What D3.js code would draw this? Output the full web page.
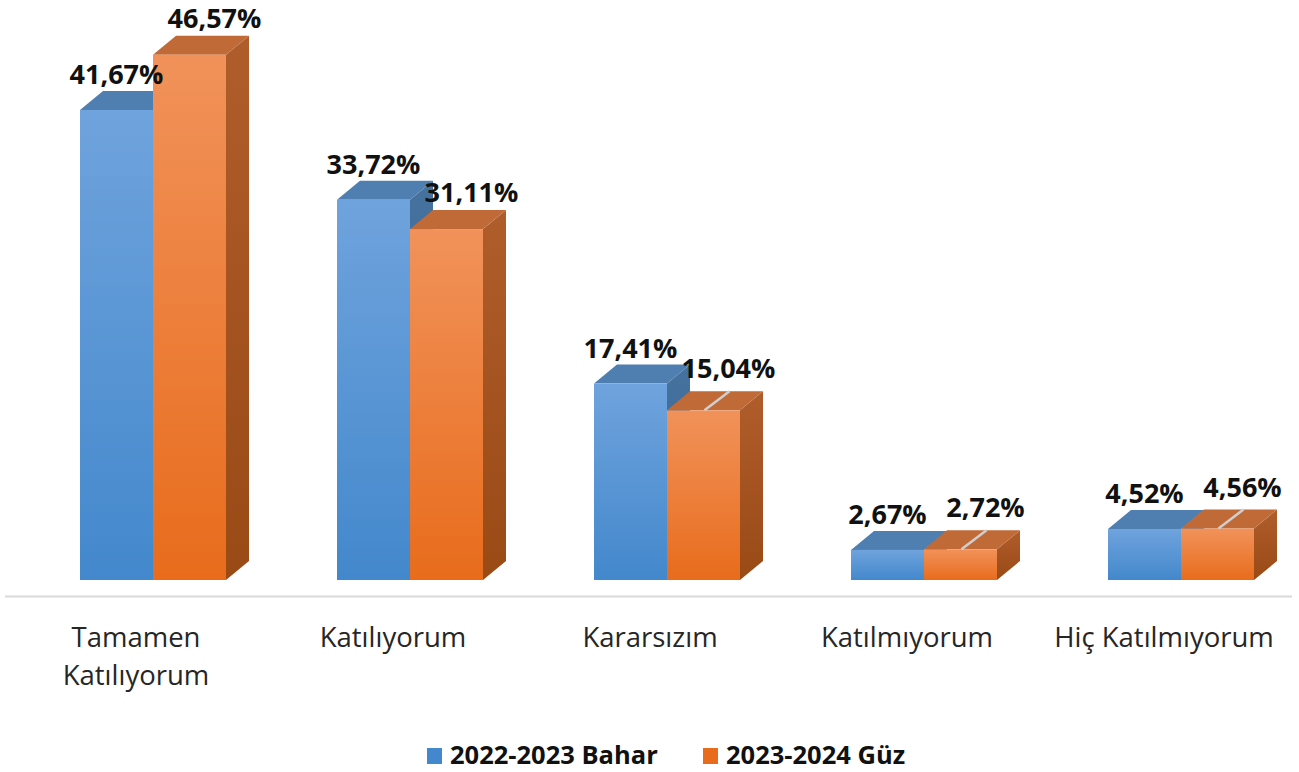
<!DOCTYPE html>
<html>
<head>
<meta charset="utf-8">
<script src="https://cdn.jsdelivr.net/npm/d3@7"></script>
<style>
  body { margin: 0; background: #fff; }
  svg { display: block; font-family: "Open Sans", "Noto Sans", sans-serif; }
  .value-label { font-weight: 700; font-size: 27px; fill: #111; }
  .cat-label { font-size: 27.5px; fill: #262626; }
  .legend-text { font-weight: 700; font-size: 25.5px; fill: #111; }
</style>
</head>
<body>
<svg id="chart"></svg>
<script>
const width = 1299;
const height = 772;

const categories = [["Tamamen", "Katılıyorum"], ["Katılıyorum"], ["Kararsızım"], ["Katılmıyorum"], ["Hiç Katılmıyorum"]];
const seriesNames = ["2022-2023 Bahar", "2023-2024 Güz"];
const bahar = [41.67, 33.72, 17.41, 2.67, 4.52];
const guz = [46.57, 31.11, 15.04, 2.72, 4.56];

const baseline = 580;
const depthX = 23;
const depthY = 19;

const faceColors = [
	{ frontTop: "#6fa3dd", frontBottom: "#4388cc", top: "#4f7eb0", sideTop: "#45729f", sideBottom: "#3a6290" },
	{ frontTop: "#f1925a", frontBottom: "#e86c1c", top: "#c06a38", sideTop: "#b05d2c", sideBottom: "#994a15" }
];

const svg = d3.select("#chart")
	.attr("width", width)
	.attr("height", height);

// gradients for the front and side faces
const defs = svg.append("defs");
faceColors.forEach((c, i) => {
	const g = defs.append("linearGradient")
		.attr("id", `front-${i}`)
		.attr("x1", 0).attr("y1", 0).attr("x2", 0).attr("y2", 1);
	g.append("stop").attr("offset", "0%").attr("stop-color", c.frontTop);
	g.append("stop").attr("offset", "100%").attr("stop-color", c.frontBottom);

	const s = defs.append("linearGradient")
		.attr("id", `side-${i}`)
		.attr("x1", 0).attr("y1", 0).attr("x2", 0).attr("y2", 1);
	s.append("stop").attr("offset", "0%").attr("stop-color", c.sideTop);
	s.append("stop").attr("offset", "100%").attr("stop-color", c.sideBottom);
});

const catKeys = categories.map((c) => c.join(" "));

const x = d3.scalePoint()
	.domain(catKeys)
	.range([153, 1181]);

const xInner = d3.scaleBand()
	.domain(seriesNames)
	.range([-73, 73])
	.padding(0);

const y = d3.scaleLinear()
	.domain([0, 50])
	.range([baseline, baseline - 50 * 11.28]);

// axis line
svg.append("line")
	.attr("x1", 5)
	.attr("x2", 1292)
	.attr("y1", 596.5)
	.attr("y2", 596.5)
	.attr("stroke", "#d9d9d9")
	.attr("stroke-width", 2);

const rows = catKeys.map((k, i) => ({ key: k, values: [bahar[i], guz[i]] }));

const groups = svg.append("g")
	.selectAll("g")
	.data(rows)
	.enter()
	.append("g");

groups.each(function (d) {
	const g = d3.select(this);
	d.values.forEach((v, s) => {
		const x0 = x(d.key) + xInner(seriesNames[s]);
		const x1 = x0 + xInner.bandwidth();
		const yt = y(v);
		// side face
		g.append("path")
			.attr("d", `M${x1},${baseline} L${x1},${yt} L${x1 + depthX},${yt - depthY} L${x1 + depthX},${baseline - depthY} Z`)
			.attr("fill", `url(#side-${s})`);
		// top face
		g.append("path")
			.attr("d", `M${x0},${yt} L${x0 + depthX},${yt - depthY} L${x1 + depthX},${yt - depthY} L${x1},${yt} Z`)
			.attr("fill", faceColors[s].top);
		// front face
		g.append("rect")
			.attr("x", x0)
			.attr("y", yt)
			.attr("width", x1 - x0)
			.attr("height", baseline - yt)
			.attr("fill", `url(#front-${s})`);
	});
});

// value labels
const fmt = (v) => v.toFixed(2).replace(".", ",") + "%";

groups.each(function (d) {
	const g = d3.select(this);
	const cx = x(d.key);
	// first series, centred over the bar
	const bx = cx + xInner(seriesNames[0]) + xInner.bandwidth() / 2;
	g.append("text")
		.attr("class", "value-label")
		.attr("x", bx)
		.attr("y", y(d.values[0]) - 26)
		.attr("text-anchor", "middle")
		.text(fmt(d.values[0]));

	// second series, nudged right; small bars get a leader line
	const ox = cx + xInner(seriesNames[1]) + xInner.bandwidth() / 2;
	const oy = y(d.values[1]);
	const small = d.values[1] < 20;
	if (small) {
		g.append("line")
			.attr("x1", ox + 1)
			.attr("y1", oy)
			.attr("x2", ox + 26)
			.attr("y2", oy - 19)
			.attr("stroke", "#cfcfcf")
			.attr("stroke-width", 2.5);
	}
	g.append("text")
		.attr("class", "value-label")
		.attr("x", ox + 25)
		.attr("y", oy - (small ? 32 : 27))
		.attr("text-anchor", "middle")
		.text(fmt(d.values[1]));
});

// category labels
groups.append("text")
	.attr("class", "cat-label")
	.attr("text-anchor", "middle")
	.attr("x", (d) => x(d.key) - 17)
	.attr("y", 647)
	.selectAll("tspan")
	.data((d, i) => categories[i])
	.enter()
	.append("tspan")
	.attr("x", function () { return this.parentNode.getAttribute("x"); })
	.attr("dy", (t, j) => j === 0 ? 0 : 38)
	.text((t) => t);

// legend
const legendPos = [427, 703];
const legend = svg.append("g")
	.selectAll("g")
	.data(seriesNames)
	.enter()
	.append("g")
	.attr("transform", (d, i) => `translate(${legendPos[i]}, 748)`);

legend.append("rect")
	.attr("width", 15)
	.attr("height", 16)
	.attr("fill", (d, i) => faceColors[i].frontBottom);

legend.append("text")
	.attr("class", "legend-text")
	.attr("x", 23)
	.attr("y", 16)
	.text((d) => d);
</script>
</body>
</html>
